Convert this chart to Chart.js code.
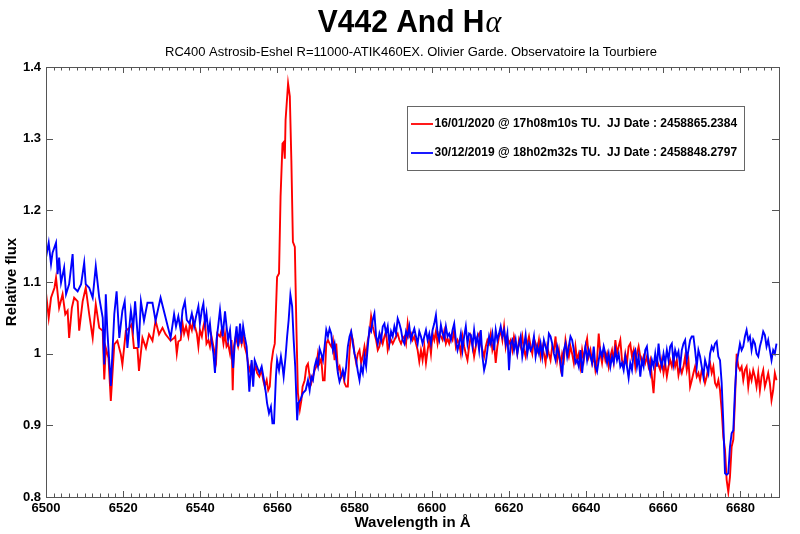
<!DOCTYPE html>
<html>
<head>
<meta charset="utf-8">
<script src="https://cdn.jsdelivr.net/npm/chart.js@4.4.1/dist/chart.umd.min.js"></script>
<style>
  html, body { margin: 0; padding: 0; background: #fff; }
  canvas { display: block; }
</style>
</head>
<body>
<canvas id="myChart" width="800" height="534"></canvas>
<script>
// wavelengths (Å) and relative flux
let wlRedHead = [6500.0, 6500.7, 6501.3, 6502.2, 6502.6, 6503.4, 6504.3, 6505.0, 6505.6, 6506.0,
  6506.7, 6507.3, 6508.2, 6508.6, 6509.5, 6510.3, 6511.2, 6512.1, 6512.9, 6513.8,
  6514.7, 6515.1, 6515.5, 6516.2, 6516.8, 6517.7, 6518.5, 6519.4, 6519.8, 6520.7,
  6521.6, 6522.2, 6522.8, 6523.7, 6524.1, 6525.0, 6525.9, 6526.7, 6527.6, 6528.4,
  6529.3, 6530.2, 6531.0, 6532.3, 6533.2,
  6533.5, 6533.9, 6534.3, 6534.9, 6535.4, 6535.8, 6536.3, 6536.9, 6537.3, 6537.8,
  6538.2, 6538.6, 6539.1, 6539.5, 6539.9, 6540.4, 6540.8, 6541.2, 6541.6, 6542.1,
  6542.5, 6542.9, 6543.4, 6544.1, 6544.4, 6545.1, 6545.5, 6546.0, 6546.4, 6546.8,
  6547.2, 6547.7, 6548.1, 6548.4, 6548.7, 6549.2, 6549.8, 6550.3, 6550.7, 6551.1,
  6551.5, 6552.0, 6552.4, 6552.8, 6553.3, 6553.7, 6554.4, 6554.7, 6555.3, 6555.9,
  6556.3, 6556.7, 6557.2, 6557.6, 6558.0, 6558.4, 6558.9, 6559.3, 6559.9, 6560.4,
  6560.8, 6561.3, 6561.6, 6561.9, 6562.1, 6562.75, 6563.2, 6563.6, 6564.0, 6564.5,
  6564.9, 6565.3, 6565.8, 6566.2, 6566.5, 6567.05, 6567.5, 6567.9];
let fluxRedHead = [1.085, 1.050, 1.078, 1.092, 1.106, 1.064, 1.083, 1.055, 1.060, 1.022,
  1.064, 1.078, 1.073, 1.032, 1.073, 1.092, 1.055, 1.022, 1.069, 1.036,
  1.032, 0.964, 1.008, 0.994, 0.934, 1.013, 1.018, 0.999, 0.985, 1.032,
  1.036, 1.041, 1.008, 1.008, 0.976, 1.022, 1.008, 1.027, 1.018, 1.046,
  1.027, 1.036, 1.027, 1.018, 1.022,
  1.024, 1.000, 1.017, 1.019, 1.042, 1.028, 1.038, 1.024, 1.042, 1.033,
  1.047, 1.038, 1.028, 1.010, 1.033, 1.024, 1.038, 1.047, 1.014, 1.019,
  1.010, 1.024, 1.010, 0.991, 1.028, 1.024, 1.033, 1.014, 1.028, 1.010,
  1.014, 1.000, 1.019, 0.949, 1.010, 1.024, 1.010, 1.024, 1.014, 1.028,
  1.010, 1.000, 0.986, 0.977, 0.986, 0.973, 0.982, 0.973, 0.968, 0.977,
  0.963, 0.954, 0.963, 0.949, 0.954, 0.986, 1.005, 1.014, 1.107, 1.112,
  1.219, 1.293, 1.295, 1.272, 1.326, 1.377, 1.359, 1.270, 1.156, 1.149,
  1.038, 0.945, 0.922, 0.935, 0.954, 0.963, 0.982, 0.986];

let wlBlueHead = [6500.0, 6500.7, 6501.3, 6501.7, 6502.6, 6503.0, 6503.4, 6503.9, 6504.7, 6505.2,
  6506.0, 6506.9, 6507.3, 6508.2, 6509.1, 6509.9, 6510.3, 6511.2, 6512.1, 6512.9,
  6513.8, 6514.7, 6515.1, 6515.5, 6515.9, 6516.8, 6517.7, 6518.3, 6519.0, 6519.8,
  6520.4, 6521.1, 6522.0, 6522.6, 6523.1, 6524.0, 6524.6, 6525.4, 6526.3, 6527.6,
  6528.4, 6529.7, 6531.0, 6532.3, 6533.2,
  6533.7, 6534.3, 6534.9, 6535.4, 6536.0, 6536.5, 6537.2, 6537.8, 6538.4, 6538.9,
  6539.5, 6539.9, 6540.4, 6540.8, 6541.2, 6541.6, 6542.1, 6542.5, 6542.9, 6543.4,
  6543.8, 6544.2, 6544.7, 6545.1, 6545.8, 6546.4, 6546.8, 6547.2, 6547.7, 6548.1,
  6548.5, 6549.0, 6549.4, 6549.8, 6550.3, 6550.7, 6551.1, 6551.5, 6552.0, 6552.4,
  6552.7, 6553.3, 6553.7, 6554.1, 6554.7, 6555.3, 6555.9, 6556.5, 6557.0, 6557.3,
  6557.8, 6558.3, 6558.7, 6559.1, 6559.6, 6559.9, 6560.4, 6560.9, 6561.3, 6561.6,
  6562.1, 6562.5, 6562.9, 6563.35, 6563.8, 6564.2, 6564.6, 6565.1, 6565.4, 6565.9,
  6566.6, 6567.3, 6567.9];
let fluxBlueHead = [1.134, 1.155, 1.125, 1.141, 1.155, 1.111, 1.134, 1.099, 1.120, 1.083,
  1.097, 1.139, 1.092, 1.087, 1.097, 1.127, 1.097, 1.092, 1.078, 1.122,
  1.078, 1.050, 0.985, 1.083, 1.032, 0.955, 1.055, 1.087, 1.022, 1.060,
  1.073, 1.008, 1.060, 1.036, 1.073, 1.008, 1.073, 1.046, 1.071, 1.071,
  1.046, 1.078, 1.050, 1.022, 1.055,
  1.038, 1.052, 1.033, 1.061, 1.073, 1.047, 1.042, 1.056, 1.038, 1.052,
  1.066, 1.042, 1.061, 1.070, 1.042, 1.056, 1.028, 1.042, 1.019, 1.000,
  0.973, 1.019, 1.042, 1.061, 1.024, 1.059, 1.038, 1.019, 1.033, 1.005,
  0.980, 1.019, 1.038, 1.010, 1.042, 1.014, 1.038, 1.024, 1.010, 0.977,
  0.947, 0.991, 0.954, 0.991, 0.982, 0.973, 0.982, 0.963, 0.945, 0.931,
  0.917, 0.926, 0.903, 0.903, 0.968, 0.991, 0.977, 0.996, 0.982, 0.968,
  0.996, 1.024, 1.047, 1.082, 1.066, 1.019, 0.982, 0.907, 0.931, 0.935,
  0.945, 0.949, 0.963];

// from 6568 Å on, both spectra read at the same wavelengths
let wlTail = [6568.34, 6568.77, 6569.20, 6569.63, 6570.06, 6570.49, 6570.92, 6571.35, 6571.79, 6572.22,
  6572.65, 6573.08, 6573.51, 6573.94, 6574.37, 6574.80, 6575.23, 6575.66, 6576.09, 6576.52,
  6576.95, 6577.38, 6577.81, 6578.24, 6578.68, 6579.11, 6579.54, 6579.97, 6580.40, 6580.83,
  6581.26, 6581.69, 6582.12, 6582.55, 6582.98, 6583.41, 6583.84, 6584.27, 6584.70, 6585.13,
  6585.57, 6586.00, 6586.43, 6586.86, 6587.29, 6587.72, 6588.15, 6588.58, 6589.01, 6589.44,
  6589.87, 6590.30, 6590.73, 6591.16, 6591.60, 6592.03, 6592.46, 6592.89, 6593.32, 6593.75,
  6594.18, 6594.61, 6595.04, 6595.47, 6595.90, 6596.33, 6596.76, 6597.19, 6597.62, 6598.06,
  6598.49, 6598.92, 6599.35, 6599.78, 6600.21, 6600.64, 6601.07, 6601.50, 6601.93, 6602.36,
  6602.79, 6603.22, 6603.65, 6604.08, 6604.51, 6604.95, 6605.38, 6605.81, 6606.24, 6606.67,
  6607.10, 6607.53, 6607.96, 6608.39, 6608.82, 6609.25, 6609.68, 6610.11, 6610.54, 6610.97,
  6611.41, 6611.84, 6612.27, 6612.70, 6613.13, 6613.56, 6613.99, 6614.42, 6614.85, 6615.28,
  6615.71, 6616.14, 6616.57, 6617.00, 6617.43, 6617.86, 6618.30, 6618.73, 6619.16, 6619.59,
  6620.02, 6620.45, 6620.88, 6621.31, 6621.74, 6622.17, 6622.60, 6623.03, 6623.46, 6623.89,
  6624.32, 6624.76, 6625.19, 6625.62, 6626.05, 6626.48, 6626.91, 6627.34, 6627.77, 6628.20,
  6628.63, 6629.06, 6629.49, 6629.92, 6630.35, 6630.78, 6631.21, 6631.65, 6632.08, 6632.51,
  6632.94, 6633.37, 6633.80, 6634.23, 6634.66, 6635.09, 6635.52, 6635.95, 6636.38, 6636.81,
  6637.24, 6637.67, 6638.10, 6638.54, 6638.97, 6639.40, 6639.83, 6640.26, 6640.69, 6641.12,
  6641.55, 6641.98, 6642.41, 6642.84, 6643.27, 6643.70, 6644.13, 6644.56, 6644.99, 6645.43,
  6645.86, 6646.29, 6646.72, 6647.15, 6647.58, 6648.01, 6648.44, 6648.87, 6649.30, 6649.73,
  6650.16, 6650.59, 6651.02, 6651.45, 6651.89, 6652.32, 6652.75, 6653.18, 6653.61, 6654.04,
  6654.47, 6654.90, 6655.33, 6655.76, 6656.19, 6656.62, 6657.05, 6657.48, 6657.92, 6658.35,
  6658.78, 6659.21, 6659.64, 6660.07, 6660.50, 6660.93, 6661.36, 6661.79, 6662.22, 6662.65,
  6663.08, 6663.51, 6663.94, 6664.37, 6664.81, 6665.24, 6665.67, 6666.10, 6666.53, 6666.96,
  6667.39, 6667.82, 6668.25, 6668.68, 6669.11, 6669.54, 6669.97, 6670.40, 6670.83, 6671.27,
  6671.70, 6672.13, 6672.56, 6672.99, 6673.42, 6673.85, 6674.28, 6674.71, 6675.14, 6675.57,
  6676.00, 6676.43, 6676.86, 6677.29, 6677.72, 6678.16, 6678.59, 6679.02, 6679.45, 6679.88,
  6680.31, 6680.74, 6681.17, 6681.60, 6682.03, 6682.46, 6682.89, 6683.32, 6683.75, 6684.18,
  6684.62, 6685.05, 6685.48, 6685.91, 6686.34, 6686.77, 6687.20, 6687.63, 6688.06, 6688.49,
  6688.92, 6689.35];

let fluxRedTail = [0.968, 0.959, 0.968, 0.977, 0.982, 1.000, 0.987, 0.993, 0.963, 0.963,
  1.014, 1.019, 1.014, 1.010, 1.019, 0.991, 1.014, 0.977, 0.982, 0.968,
  0.973, 0.959, 0.954, 0.954, 1.005, 1.028, 1.019, 1.000, 0.987, 1.000,
  1.005, 0.987, 0.996, 1.010, 0.996, 1.019, 1.028, 1.052, 1.038, 1.028,
  1.019, 1.005, 1.010, 1.024, 1.014, 1.024, 1.031, 1.005, 1.014, 1.019,
  1.014, 1.019, 1.024, 1.028, 1.019, 1.014, 1.021, 1.024, 1.014, 1.042,
  1.024, 1.028, 1.019, 1.024, 1.014, 1.005, 0.989, 1.005, 0.991, 1.010,
  0.987, 1.005, 1.019, 1.000, 1.028, 1.019, 1.031, 1.014, 1.028, 1.024,
  1.019, 1.031, 1.014, 1.021, 1.014, 1.024, 1.019, 1.033, 1.010, 1.019,
  1.014,
  1.000, 1.024, 1.010, 1.000, 0.991, 1.010, 1.024, 1.014, 0.996, 1.010,
  1.024, 1.028, 1.014, 1.005, 0.996, 1.010, 1.019, 1.014, 1.028, 1.005,
  1.014, 0.987, 1.010, 1.024, 1.033, 1.019, 1.038, 1.010, 1.024, 1.014,
  1.019, 1.005, 1.024, 1.014, 1.000, 1.019, 1.010, 1.024, 1.005, 0.996,
  1.014, 1.024, 1.010, 1.000, 1.021, 1.014, 1.005, 1.019, 0.996, 1.010,
  1.000, 0.987, 1.010, 1.000, 0.991, 1.010, 1.005, 1.024, 0.991, 1.005,
  0.982, 1.000, 0.991, 1.019, 1.005, 0.996, 1.010, 1.000, 0.987, 1.010,
  0.991, 1.000, 0.982, 1.005, 0.991, 1.010, 1.021, 0.996, 1.005, 0.987,
  0.996, 0.977, 0.991, 1.028, 1.000, 0.987, 1.005, 0.991, 1.000, 0.982,
  0.996, 1.005, 0.989, 1.019, 1.000, 1.010, 1.019, 0.991, 0.982, 1.000,
  0.987, 1.010, 1.014, 0.996, 1.005,
  0.982, 1.000, 1.010, 0.996, 0.987, 0.996, 0.987, 0.996, 0.982, 0.991,
  0.968, 0.945, 0.982, 0.991, 0.984, 0.977, 0.991, 0.973, 0.987, 0.968,
  0.982, 0.991, 0.982, 0.996, 0.982, 0.991, 0.970, 0.982, 0.973, 0.982,
  0.996, 0.977, 0.991, 0.954, 0.963, 0.973, 0.982, 0.968, 0.973, 0.963,
  0.977, 0.973, 0.959, 0.968, 0.982, 0.987, 0.973, 0.982, 0.959, 0.954,
  0.963, 0.949, 0.921, 0.884, 0.866, 0.824, 0.807, 0.828, 0.870, 0.880,
  0.935, 1.000, 0.982, 0.977, 0.982, 0.963, 0.977, 0.982, 0.954, 0.973,
  0.963, 0.977, 0.968, 0.954, 0.973, 0.949, 0.968, 0.977, 0.954, 0.963,
  0.973, 0.959, 0.935, 0.949, 0.973, 0.963];

let fluxBlueTail = [0.949, 0.968, 0.963, 0.982, 0.991, 0.982, 1.007, 1.000, 0.991, 1.010,
  1.033, 1.024, 1.035, 1.028, 1.005, 1.014, 0.993, 0.973, 0.961, 0.968,
  0.977, 0.966, 0.982, 1.010, 1.024, 1.031, 1.014, 1.000, 0.991, 0.975,
  0.963, 0.982, 0.973, 0.996, 0.982, 1.010, 1.035, 1.031, 1.047, 1.056,
  1.024, 1.014, 1.028, 1.019, 1.038, 1.042, 1.028, 1.038, 1.014, 1.031,
  1.024, 1.038, 1.028, 1.049, 1.042, 1.033, 1.019, 1.014, 1.031, 1.024,
  1.038, 1.019, 1.028, 1.035, 1.024, 1.014, 1.031, 1.024, 1.014, 1.024,
  1.033, 1.019, 1.028, 1.014, 1.033, 1.042, 1.054, 1.028, 1.019, 1.040,
  1.028, 1.021, 1.038, 1.024, 1.028, 1.019, 1.033, 1.042, 1.019, 1.005,
  1.014,
  1.028, 1.005, 1.024, 1.038, 1.014, 1.028, 1.026, 1.010, 1.033, 1.014,
  1.024, 1.005, 1.033, 0.996, 0.977, 0.987, 1.005, 1.024, 1.014, 1.028,
  1.005, 1.033, 1.019, 1.028, 1.038, 1.024, 1.033, 1.014, 1.028, 0.977,
  1.014, 1.019, 1.005, 1.019, 1.000, 1.014, 1.024, 0.996, 1.010, 1.026,
  1.000, 1.014, 1.005, 1.010, 1.024, 0.996, 1.010, 1.000, 1.014, 0.996,
  1.019, 1.010, 1.000, 1.028, 1.024, 1.014, 1.000, 0.991, 1.010, 1.000,
  0.987, 0.968, 1.005, 1.014, 0.996, 1.010, 1.024, 1.019, 1.005, 0.987,
  0.991, 0.982, 1.005, 0.973, 0.996, 1.010, 0.991, 1.005, 0.996, 0.987,
  1.010, 0.982, 0.975, 0.991, 1.005, 0.996, 1.010, 1.000, 0.987, 1.000,
  0.982, 0.996, 0.987, 1.005, 0.991, 1.000, 0.982, 0.987, 0.977, 0.996,
  0.982, 0.966, 0.987, 0.977, 1.000,
  1.005, 0.982, 0.996, 0.968, 0.991, 0.982, 1.005, 1.010, 0.987, 0.973,
  0.991, 0.982, 1.000, 0.982, 1.014, 0.991, 0.982, 1.000, 0.987, 1.005,
  0.991, 1.010, 1.014, 0.987, 1.005, 0.996, 1.003, 0.982, 1.005, 1.014,
  1.019, 0.991, 1.005, 1.019, 1.024, 1.024, 1.005, 0.982, 1.005, 0.996,
  0.982, 0.968, 0.991, 0.982, 0.973, 1.000, 1.010, 1.005, 1.014, 1.017,
  0.996, 0.991, 0.959, 0.903, 0.833, 0.831, 0.833, 0.870, 0.889, 0.893,
  0.949, 0.987, 1.000, 1.014, 1.005, 1.010, 1.024, 1.033, 1.019, 1.024,
  1.005, 1.019, 1.014, 1.000, 0.996, 1.010, 1.019, 1.031, 1.026, 1.010,
  1.019, 1.005, 0.991, 1.005, 1.000, 1.014];

let legendRed = "16/01/2020 @ 17h08m10s TU.  JJ Date : 2458865.2384";
let legendBlue = "30/12/2019 @ 18h02m32s TU.  JJ Date : 2458848.2797";
let xTickLabels = [6500, 6520, 6540, 6560, 6580, 6600, 6620, 6640, 6660, 6680];
let yTickLabels = [0.8, 0.9, 1, 1.1, 1.2, 1.3, 1.4];

const FONT = "'Liberation Sans', Arial, Helvetica, sans-serif";

function toPoints(wl, flux) {
  return wl.map((x, i) => ({ x: x, y: flux[i] }));
}

// MATLAB-like frame with inward ticks
const frame = {
  id: "frame",
  afterDatasetsDraw(chart) {
    const { ctx, chartArea: a, scales } = chart;
    ctx.save();
    ctx.strokeStyle = "#555";
    ctx.lineWidth = 1;
    ctx.beginPath();
    for (let w = 6500; w <= 6690; w += 2) {
      const px = Math.round(scales.x.getPixelForValue(w)) + 0.5;
      const len = xTickLabels.includes(w) ? 6 : 3.5;
      ctx.moveTo(px, a.bottom);
      ctx.lineTo(px, a.bottom - len);
      ctx.moveTo(px, a.top);
      ctx.lineTo(px, a.top + len);
    }
    yTickLabels.forEach((v) => {
      const py = Math.round(scales.y.getPixelForValue(v)) + 0.5;
      ctx.moveTo(a.left, py);
      ctx.lineTo(a.left + 7, py);
      ctx.moveTo(a.right, py);
      ctx.lineTo(a.right - 7, py);
    });
    ctx.stroke();
    ctx.strokeRect(Math.round(a.left) + 0.5, Math.round(a.top) + 0.5,
      Math.round(a.right - a.left), Math.round(a.bottom - a.top));
    ctx.restore();
  },
  afterDraw(chart) {
    const ctx = chart.ctx;
    ctx.save();
    // title with italic alpha
    ctx.fillStyle = "#000";
    ctx.textBaseline = "alphabetic";
    const t1 = "V442 And H";
    const t2 = "\u03b1";
    ctx.font = "bold 30px " + FONT;
    const w1 = ctx.measureText(t1).width;
    ctx.font = "italic 30px 'Liberation Serif', 'DejaVu Serif', serif";
    const w2 = ctx.measureText(t2).width;
    const x0 = 409 - (w1 + w2) / 2;
    ctx.save();
    ctx.translate(0, 32);
    ctx.scale(1, 1.06);
    ctx.font = "bold 30px " + FONT;
    ctx.textAlign = "left";
    ctx.fillText(t1, x0, 0);
    ctx.font = "italic 30px 'Liberation Serif', 'DejaVu Serif', serif";
    ctx.fillText(t2, x0 + w1 + 1, 0);
    ctx.restore();
    // subtitle
    ctx.font = "13px " + FONT;
    ctx.textAlign = "center";
    ctx.fillText("RC400 Astrosib-Eshel R=11000-ATIK460EX. Olivier Garde. Observatoire la Tourbiere", 411, 56);
    // legend box
    ctx.fillStyle = "#fff";
    ctx.fillRect(407.5, 106.5, 337, 64);
    ctx.strokeStyle = "#666";
    ctx.lineWidth = 1;
    ctx.strokeRect(407.5, 106.5, 337, 64);
    const items = [
      { text: legendRed, color: chart.data.datasets[0].borderColor, y: 124 },
      { text: legendBlue, color: chart.data.datasets[1].borderColor, y: 153 },
    ];
    ctx.font = "bold 12px " + FONT;
    ctx.textAlign = "left";
    ctx.textBaseline = "middle";
    items.forEach((it) => {
      ctx.strokeStyle = it.color;
      ctx.lineWidth = 1.8;
      ctx.beginPath();
      ctx.moveTo(411, it.y);
      ctx.lineTo(433, it.y);
      ctx.stroke();
      ctx.fillStyle = "#000";
      ctx.fillText(it.text, 434.5, it.y);
    });
    ctx.restore();
  },
};

var ctx = document.getElementById("myChart");

var myChart = new Chart(ctx, {
  type: "line",
  data: {
    datasets: [
      {
        label: legendRed,
        data: toPoints(wlRedHead.concat(wlTail), fluxRedHead.concat(fluxRedTail)),
        borderColor: "#ff0000",
        borderWidth: 1.9,
        pointRadius: 0,
        tension: 0,
        order: 2,
      },
      {
        label: legendBlue,
        data: toPoints(wlBlueHead.concat(wlTail), fluxBlueHead.concat(fluxBlueTail)),
        borderColor: "#0000ff",
        borderWidth: 1.9,
        pointRadius: 0,
        tension: 0,
        order: 1,
      },
    ],
  },
  options: {
    responsive: false,
    animation: false,
    layout: { padding: { top: 67, right: 21, left: 0, bottom: 0 } },
    plugins: {
      legend: { display: false },
      tooltip: { enabled: false },
      title: { display: false },
    },
    scales: {
      x: {
        type: "linear",
        min: 6500,
        max: 6690,
        afterFit: (s) => { s.height = 37; },
        afterBuildTicks: (s) => { s.ticks = xTickLabels.map((v) => ({ value: v })); },
        ticks: {
          autoSkip: false,
          maxRotation: 0,
          padding: 4,
          color: "#000",
          font: { family: FONT, size: 13, weight: "bold" },
          callback: (v) => String(v),
        },
        grid: { display: false, drawTicks: false },
        border: { display: false },
        title: {
          display: true,
          text: "Wavelength in Å",
          color: "#000",
          font: { family: FONT, size: 15, weight: "bold" },
          padding: { top: 0, bottom: 2 },
        },
      },
      y: {
        min: 0.8,
        max: 1.4,
        afterFit: (s) => { s.width = 46; },
        afterBuildTicks: (s) => { s.ticks = yTickLabels.map((v) => ({ value: v })); },
        ticks: {
          padding: 5,
          color: "#000",
          font: { family: FONT, size: 13, weight: "bold" },
          callback: (v) => String(Math.round(v * 10) / 10),
        },
        grid: { display: false, drawTicks: false },
        border: { display: false },
        title: {
          display: true,
          text: "Relative flux",
          color: "#000",
          font: { family: FONT, size: 15, weight: "bold" },
          padding: { top: 3, bottom: 0 },
        },
      },
    },
  },
  plugins: [frame],
});
</script>
</body>
</html>
